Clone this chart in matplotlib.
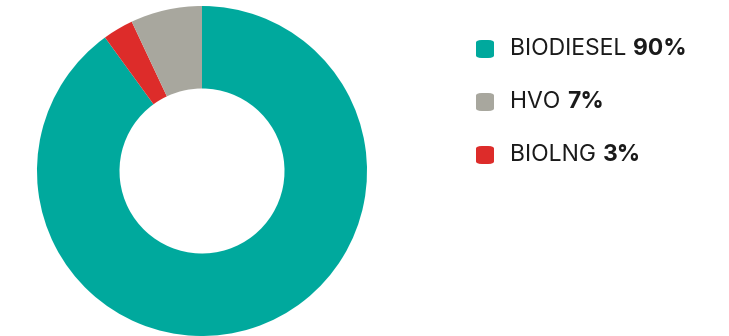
import matplotlib
matplotlib.use("Agg")
import matplotlib.pyplot as plt
from matplotlib.patches import FancyBboxPatch

labels = ["BIODIESEL", "BIOLNG", "HVO"]
shares = [90, 3, 7]
colors = ["#00A99D", "#DD2C2A", "#A8A79E"]

# legend order as in the picture
legend_order = ["BIODIESEL", "HVO", "BIOLNG"]

plt.rcParams['font.family'] = ['Inter', 'DejaVu Sans']

W, H = 729, 336
fig = plt.figure(figsize=(W / 100, H / 100), dpi=100)

# donut
cx, cy, r = 202, 171, 165
ax = fig.add_axes([(cx - r) / W, (H - cy - r) / H, 2 * r / W, 2 * r / H])
ax.pie(shares, colors=colors, startangle=90, counterclock=False,
       wedgeprops=dict(width=0.5, linewidth=0), radius=1.0)
ax.set_xlim(-1, 1)
ax.set_ylim(-1, 1)
ax.set_aspect('equal')
ax.axis('off')

# legend drawn by hand
renderer = fig.canvas.get_renderer()
row_y = [49, 102, 155]
for name, y in zip(legend_order, row_y):
    i = labels.index(name)
    box = FancyBboxPatch((476 / W, (H - y - 9) / H), 18 / W, 18 / H,
                         boxstyle="round,pad=0,rounding_size=0.008",
                         transform=fig.transFigure, facecolor=colors[i],
                         edgecolor='none')
    fig.patches.append(box)
    t = fig.text(510 / W, (H - y) / H, name + " ", fontsize=16.5,
                 color="#1a1a1a", va='center', ha='left')
    bb = t.get_window_extent(renderer)
    fig.text(bb.x1 / W, (H - y) / H, f"{shares[i]}%", fontsize=16.5,
             fontweight='bold', color="#1a1a1a", va='center', ha='left')

fig.savefig("out.png", dpi=100)
